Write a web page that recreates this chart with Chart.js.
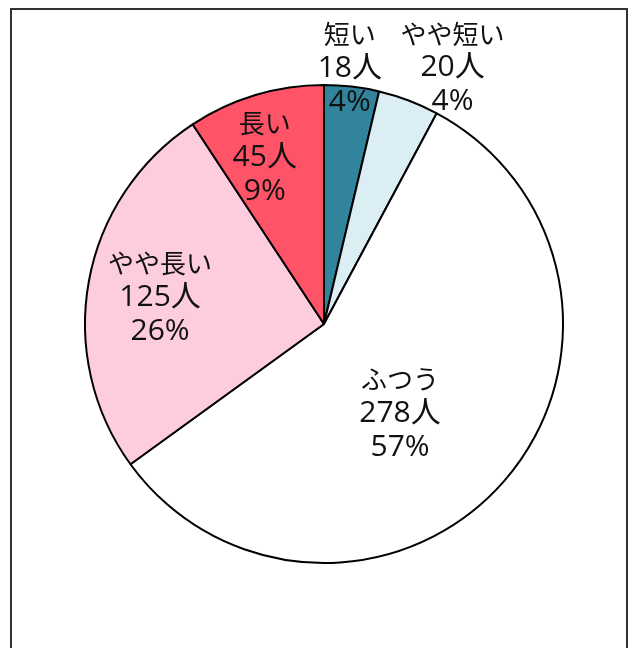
<!DOCTYPE html>
<html lang="ja">
<head>
<meta charset="utf-8">
<script src="https://cdn.jsdelivr.net/npm/chart.js@4/dist/chart.umd.min.js"></script>
<style>
    html, body { margin: 0; padding: 0; background: #fff; overflow: hidden; }
    #frame {
        position: absolute; left: 10px; top: 8px;
        width: 614px; height: 700px;
        border: 2px solid #333;
    }
    #wrap { position: absolute; left: 0; top: 0; width: 634px; height: 648px; }
</style>
</head>
<body>
<div id="frame"></div>
<div id="wrap"><canvas id="pie"></canvas></div>
<script>
// Chart data
const categories = ['短い', 'やや短い', 'ふつう', 'やや長い', '長い'];
const counts = [18, 20, 278, 125, 45];
const sliceColors = ['#31849B', '#DBEEF4', '#FFFFFF', '#FDCCDD', '#FF5468'];

// label placement: angle nudge (deg) and distance as a fraction of the radius
const labelAngleNudge = [-0.9, 5.9, 8.4, -1.1, -2.9];
const labelRadius = [1.075, 1.2, 0.49, 0.695, 0.74];

const total = counts.reduce((a, b) => a + b, 0);

// Draw the three-line labels next to each slice
const sliceLabels = {
    id: 'sliceLabels',
    afterDatasetsDraw(chart) {
        const ctx = chart.ctx;
        const arcs = chart.getDatasetMeta(0).data;
        const nameFont = '26px "Noto Sans CJK JP", sans-serif';
        const numFont = '30px "Open Sans", "Noto Sans CJK JP", sans-serif';
        ctx.save();
        ctx.fillStyle = '#111';
        ctx.textAlign = 'center';
        ctx.textBaseline = 'middle';
        arcs.forEach((arc, i) => {
            const p = arc.getProps(['x', 'y', 'startAngle', 'endAngle', 'outerRadius'], true);
            const mid = (p.startAngle + p.endAngle) / 2 + labelAngleNudge[i] * Math.PI / 180;
            const r = p.outerRadius * labelRadius[i];
            const cx = p.x + Math.cos(mid) * r;
            const cy = p.y + Math.sin(mid) * r;
            ctx.font = nameFont;
            ctx.fillText(categories[i], cx, cy - 34);
            ctx.font = numFont;
            ctx.fillText(counts[i] + '人', cx, cy);
            ctx.fillText(Math.round(counts[i] / total * 100) + '%', cx, cy + 34);
        });
        ctx.restore();
    }
};

const chart = new Chart(document.getElementById('pie'), {
    type: 'pie',
    data: {
        labels: categories,
        datasets: [{
            data: counts,
            backgroundColor: sliceColors,
            borderColor: '#000',
            borderWidth: 2
        }]
    },
    options: {
        responsive: true,
        maintainAspectRatio: false,
        animation: false,
        layout: { padding: { left: 84, right: 70, top: 84, bottom: 84 } },
        plugins: {
            legend: { display: false },
            tooltip: { enabled: false }
        }
    },
    plugins: [sliceLabels]
});
</script>
</body>
</html>
